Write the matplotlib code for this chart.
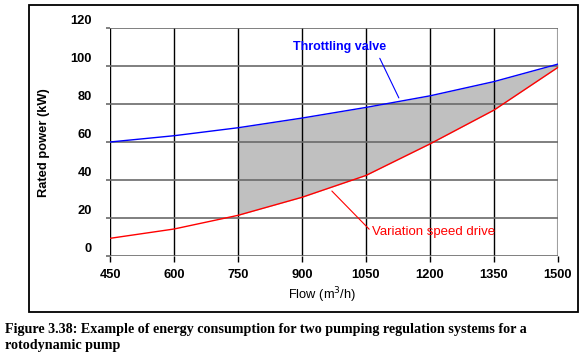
import matplotlib
matplotlib.use("Agg")
import matplotlib.pyplot as plt
import matplotlib.patches as patches
import matplotlib.transforms as transforms
import numpy as np

# Data
flow = [450, 600, 750, 900, 1050, 1200, 1350, 1500]
throttling = [60, 63.3, 67.5, 72.6, 78.2, 84.3, 91.8, 101]
variable_speed = [9.3, 14.2, 21.4, 30.9, 42.4, 59, 76.8, 99.3]
y_ticks = [0, 20, 40, 60, 80, 100, 120]

plt.rcParams['font.family'] = ['Liberation Sans', 'DejaVu Sans']

W, H = 583, 357
fig = plt.figure(figsize=(W / 100, H / 100), dpi=100)
ax = fig.add_axes([110 / W, 1 - 256 / H, (558 - 110) / W, (256 - 28) / H])

# shaded saving area between the two curves (750 .. 1500)
f = np.array(flow)
ax.fill_between(f, variable_speed, throttling, where=f >= 750,
                color='#c0c0c0', lw=0, zorder=1)

ax.plot(flow, throttling, color='#0000ff', lw=1, zorder=3)
ax.plot(flow, variable_speed, color='#ff0000', lw=1, zorder=3)

ax.set_xlim(450, 1500)
ax.set_ylim(0, 120)
ax.set_xticks(flow)
ax.set_yticks(y_ticks)
for s in ax.spines.values():
    s.set_visible(False)

ax.set_axisbelow(False)
ax.xaxis.grid(True, color='black', lw=1)
ax.yaxis.grid(True, color='#6a6a6a', lw=1.2)
ax.get_xgridlines()[-1].set_color('#a0a0a0')
ax.get_xgridlines()[-1].set_linewidth(1.5)

ax.tick_params(axis='x', length=4, width=1, color='black', pad=5,
               labelsize=9.3)
ax.tick_params(axis='y', length=3, width=1.2, color='#6a6a6a', pad=10,
               labelsize=9.3)
for lab in ax.get_xticklabels() + ax.get_yticklabels():
    lab.set_fontweight('bold')

# y tick labels sit a little above their grid lines in the original
shift = transforms.ScaledTranslation(0, 0.08, fig.dpi_scale_trans)
for lab in ax.get_yticklabels():
    lab.set_transform(lab.get_transform() + shift)

fig.text(44 / W, 1 - 143 / H, 'Rated power (kW)', rotation=90,
         ha='center', va='center', fontsize=9.3, fontweight='bold')
fig.text(322 / W, 1 - 295 / H, 'Flow (m$^3$/h)', ha='center', va='center',
         fontsize=9.3)

# annotations
ax.annotate('Throttling valve', xy=(1127, 83.2), xytext=(989, 110),
            color='#0000ff', fontsize=9, fontweight='bold',
            ha='center', va='center',
            arrowprops=dict(arrowstyle='-', color='#0000ff', lw=0.8,
                            relpos=(0.9, 0), shrinkA=2, shrinkB=0))
ax.annotate('Variation speed drive', xy=(970, 34.2), xytext=(1064, 12.6),
            color='#ff0000', fontsize=9.5,
            ha='left', va='center',
            arrowprops=dict(arrowstyle='-', color='#ff0000', lw=0.8,
                            relpos=(0, 0.5), shrinkA=0, shrinkB=0))

# frame around the chart
fig.patches.append(patches.Rectangle((29 / W, 1 - 312 / H), (578 - 29) / W,
                                     (312 - 4.5) / H, fill=False, lw=1.3,
                                     edgecolor='black',
                                     transform=fig.transFigure))

fig.text(5 / W, 1 - 329 / H,
         'Figure 3.38: Example of energy consumption for two pumping regulation systems for a',
         family='Liberation Serif', fontweight='bold', fontsize=10.2,
         ha='left', va='center')
fig.text(5 / W, 1 - 346 / H, 'rotodynamic pump',
         family='Liberation Serif', fontweight='bold', fontsize=10.2,
         ha='left', va='center')

fig.savefig('out.png', dpi=100)
